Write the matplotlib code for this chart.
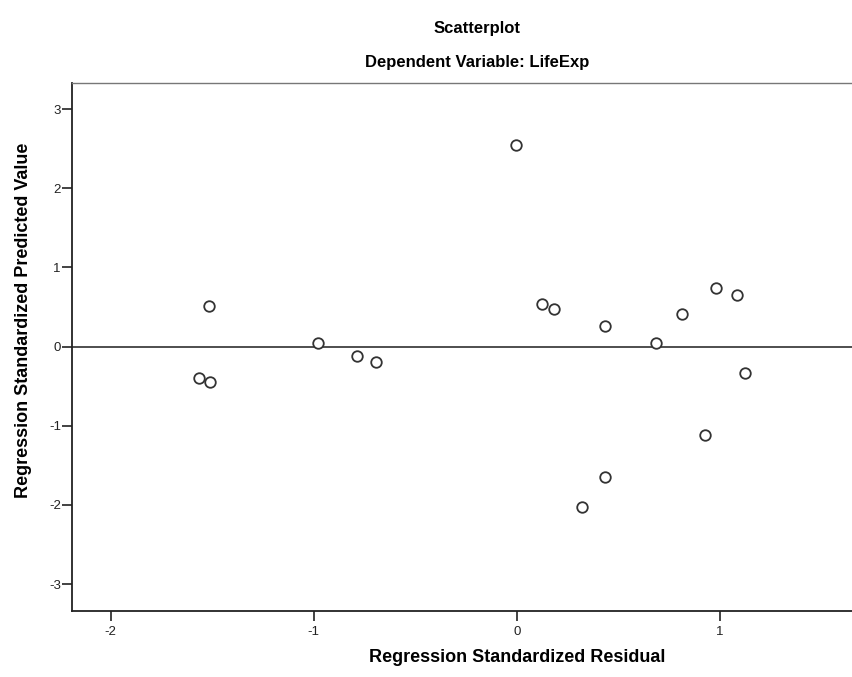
import matplotlib
matplotlib.use("Agg")
import matplotlib.pyplot as plt

plt.rcParams['font.family'] = ['Liberation Sans', 'DejaVu Sans']

# Data
residual = [-0.005, -1.516, -1.567, -1.512, -0.977, -0.788, -0.693, 0.122, 0.182,
            0.435, 0.685, 0.814, 0.982, 1.085, 1.125, 0.925, 0.433, 0.319]
predicted = [2.549, 0.512, -0.394, -0.445, 0.048, -0.116, -0.196, 0.533, 0.474,
             0.259, 0.042, 0.408, 0.743, 0.654, -0.335, -1.118, -1.648, -2.023]
xticks = [-2, -1, 0, 1]
yticks = [-3, -2, -1, 0, 1, 2, 3]

fig = plt.figure(figsize=(8.52, 6.77), dpi=100)
W, H = 852, 677
left, right, top, bottom = 72, 852, 83, 611
ax = fig.add_axes([left / W, 1 - bottom / H, (right - left) / W, (bottom - top) / H])

ax.axhline(0, color='#404040', lw=1.3, zorder=1)
ax.plot(residual, predicted, linestyle='none', marker='o', markersize=7.6,
        markerfacecolor='white', markeredgecolor='#333333', markeredgewidth=1.3, zorder=3)

ax.set_xlim(-2.19, 1.65)
ax.set_ylim(-3.34, 3.33)
ax.set_xticks(xticks)
ax.set_yticks(yticks)
ax.set_xticklabels([str(t) for t in xticks])
ax.set_yticklabels([str(t) for t in yticks])
ax.tick_params(axis='both', direction='out', length=7, width=1.2, color='#222222',
               labelsize=9.5, labelcolor='#222222')
ax.tick_params(axis='x', pad=3.5)
ax.tick_params(axis='y', pad=1)

for s in ['left', 'bottom']:
    ax.spines[s].set_linewidth(1.3)
    ax.spines[s].set_color('#222222')
ax.spines['right'].set_visible(False)
ax.spines['top'].set_linewidth(1.0)
ax.spines['top'].set_color('#777777')

ax.set_xlabel('Regression Standardized Residual', fontsize=13, fontweight='bold')
ax.set_ylabel('Regression Standardized Predicted Value', fontsize=13, fontweight='bold')
# label centres (pixel positions)
ax.xaxis.set_label_coords((517 - left) / (right - left), -(658 - bottom) / (bottom - top))
ax.yaxis.set_label_coords(-(72 - 24) / (right - left), (bottom - 320) / (bottom - top))
ax.xaxis.label.set_va('center')
ax.yaxis.label.set_va('center')

fig.text(477 / W, 1 - 28 / H, 'Scatterplot', ha='center', va='center',
         fontsize=12, fontweight='bold')
fig.text(477 / W, 1 - 63 / H, 'Dependent Variable: LifeExp', ha='center', va='center',
         fontsize=12, fontweight='bold')

fig.savefig('out.png', dpi=100)
